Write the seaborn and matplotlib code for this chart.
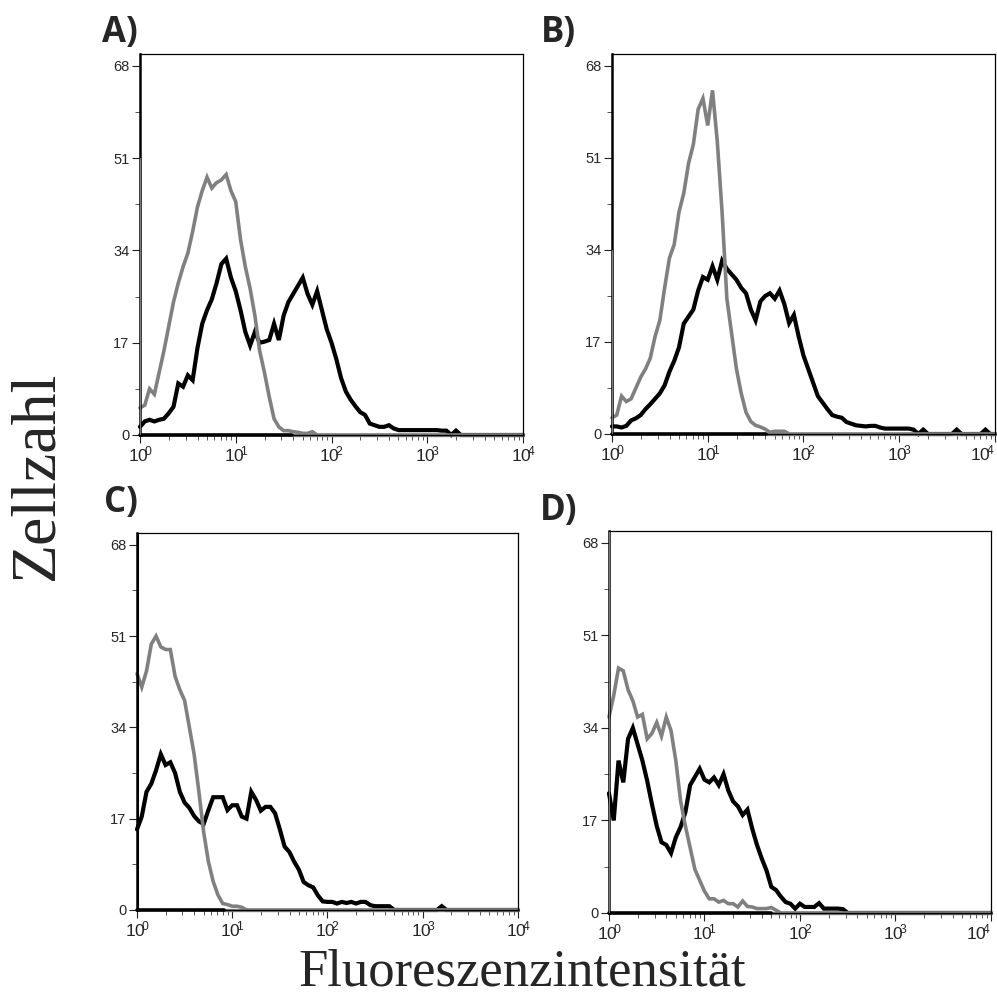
import numpy as np
import pandas as pd
import matplotlib
matplotlib.use("Agg")
import matplotlib.pyplot as plt
import seaborn as sns

# ---------------- data (counts per channel, channel width = 0.05 decade, starting at 10^0) ----------------
panel_labels = ["A)", "B)", "C)", "D)"]
channel_step = 0.05  # decades per channel

a_gray = [5, 5.5, 8.5, 7.5, 11.5, 15.5, 20, 24.5, 28, 31, 33.5, 37.5, 42, 45, 47.5, 45.5, 46.5, 47, 48, 45,
          43, 36, 31, 27, 22, 15.5, 11.5, 7, 3, 1.5, 0.8, 0.8, 0.6, 0.5, 0.3, 0.3, 0.6]
a_black = [1.5, 2.5, 2.8, 2.5, 2.8, 3, 4, 5.2, 9.5, 8.9, 11, 10.1, 16, 20.5, 23, 25, 28, 31.5, 32.5, 29,
           26.5, 23, 19, 16.5, 19, 17, 17.2, 17.5, 20.5, 17.5, 22, 24.5, 26, 27.5, 29, 26, 24, 26.5, 23, 19.5,
           17, 14, 10.5, 8, 6.5, 5.3, 4.2, 3.7, 2.1, 1.8, 1.5, 1.5, 1.8, 1.2, 0.9, 0.9, 0.9, 0.9, 0.9, 0.9,
           0.9, 0.9, 0.9, 0.8, 0.8, 0, 0.8]

b_gray = [3, 3.5, 7, 6, 6.5, 8.5, 10.5, 12, 14, 18, 21, 27, 32.5, 35, 41, 44.5, 50, 53.5, 60, 62,
          57, 63.5, 54, 41, 25, 18.5, 12, 7.5, 4, 2.3, 1.6, 1.3, 0.9, 0.3, 0.5, 0.5, 0.5]
b_black = [1.4, 1.4, 1.2, 1.5, 2.5, 2.9, 3.5, 4.6, 5.5, 6.5, 7.5, 9, 11.5, 13.5, 16, 20.4, 21.7, 23, 26.5, 29,
           28.5, 31, 28.5, 32, 30.5, 29.5, 28.5, 27, 26, 23, 21, 24.5, 25.5, 26, 25, 26.5, 24, 20.5, 22, 18,
           14.5, 12, 9.5, 7, 5.8, 4.6, 3.5, 3.2, 3, 2.2, 1.9, 1.6, 1.5, 1.4, 1.5, 1.5, 1.2, 1, 1, 1,
           1, 1, 1, 0.8, 0, 0.8, 0, 0, 0, 0, 0, 0, 0.8, 0, 0, 0, 0, 0, 0.8]

c_gray = [44, 41.5, 44.5, 49.5, 51, 49, 48.5, 48.5, 43.5, 41, 39, 34, 29, 22, 14.5, 9, 5.3, 2.8, 1.2, 1,
          0.7, 0.7, 0.5]
c_black = [15, 17.4, 22, 23.5, 26, 29, 27, 27.5, 25.5, 22, 20, 19, 17.5, 16.5, 16, 18.6, 21, 21, 21, 18.6,
           19.5, 19.5, 17.4, 17, 22, 20.5, 18.5, 19.2, 19.2, 18, 15, 11.8, 10.8, 9, 7.5, 5.2, 4.6, 4.2, 2.7, 1.6,
           1.5, 1.5, 1.2, 1.5, 1.3, 1.5, 1.2, 1.5, 1.5, 0.9, 0.7, 0.7, 0.7, 0.7, 0, 0, 0, 0, 0, 0,
           0, 0, 0, 0, 0.7]

d_gray = [36, 40, 45, 44.5, 41, 39, 36, 36.5, 32, 33, 35, 32.5, 36, 33.5, 28, 20.6, 16, 12, 8, 6,
          4, 2.6, 2.6, 2, 2.3, 1.7, 1.7, 1.1, 2.2, 1.2, 1.1, 0.8, 0.8, 0.8, 1, 0.5]
d_black = [22, 17, 28, 24, 32, 34, 31, 28, 24.3, 20, 16, 13, 12.5, 11, 13.9, 15.8, 18.5, 23.5, 25, 26.5,
           24.5, 24, 24.9, 23.5, 25.5, 22.5, 20.5, 19.6, 18, 19, 15.5, 12.5, 10, 7.8, 4.8, 4.2, 3, 2, 1.7, 0.8,
           1.7, 1.1, 1.1, 1.1, 1.8, 0.8, 0.8, 0.8, 0.8, 0.7]

gray_series = [a_gray, b_gray, c_gray, d_gray]
black_series = [a_black, b_black, c_black, d_black]

# first-channel spike at 10^0 (value, colour) and end of black baseline segment (decades)
first_channel_values = [51, 34, 70, 70]
first_channel_colors = ["gray", "gray", "black", "gray"]
black_baseline_end = [1.59, 1.61, 0.91, 1.70]

y_ticks = [0, 17, 34, 51, 68]
x_decades = [0, 1, 2, 3, 4]
x_label = "Fluoreszenzintensität"
y_label = "Zellzahl"

GRAY = "#808080"
colors = {"gray": GRAY, "black": "#000000"}

# ---------------- style ----------------
sns.set_style("white")
plt.rcParams["font.family"] = ["Liberation Sans", "DejaVu Sans"]
plt.rcParams["mathtext.fontset"] = "custom"
plt.rcParams["mathtext.rm"] = "Liberation Sans"
plt.rcParams["mathtext.it"] = "Liberation Sans"
plt.rcParams["mathtext.bf"] = "Liberation Sans:bold"

fig = plt.figure(figsize=(9.97, 9.97), dpi=100)
rects = [[0.1404, 0.5637, 0.3842, 0.3821],
         [0.6138, 0.5647, 0.3842, 0.3811],
         [0.1374, 0.0873, 0.3821, 0.3781],
         [0.6108, 0.0843, 0.3831, 0.3831]]
letter_pos = [(0.1023, 0.9579), (0.5426, 0.9579), (0.1043, 0.4865), (0.5416, 0.4784)]

n_full = int(round(4 / channel_step)) + 1


def series_frame(values, name):
    vals = list(values) + [0.0] * (n_full - len(values))
    logx = np.arange(n_full) * channel_step
    return pd.DataFrame({"x": 10 ** logx, "count": vals, "series": name})


for i, rect in enumerate(rects):
    ax = fig.add_axes(rect)
    df_b = series_frame(black_series[i], "black")
    df_g = series_frame(gray_series[i], "gray")

    # black baseline segment and gray baseline (overlay artefact of the original histogram)
    base_b = pd.DataFrame({"x": [1.0, 10 ** black_baseline_end[i]], "count": [0, 0]})
    base_g = pd.DataFrame({"x": [10 ** black_baseline_end[i], 1e4], "count": [0, 0]})
    sns.lineplot(data=base_g, x="x", y="count", color=GRAY, lw=2.4, ax=ax, clip_on=False)
    sns.lineplot(data=base_b, x="x", y="count", color="black", lw=2.6, ax=ax, clip_on=False)

    sns.lineplot(data=df_b, x="x", y="count", color="black", lw=3.0,
                 estimator=None, ax=ax, clip_on=False, solid_joinstyle="miter")
    sns.lineplot(data=df_g, x="x", y="count", color=GRAY, lw=2.6,
                 estimator=None, ax=ax, clip_on=False, solid_joinstyle="miter")

    spike_lw = 2.2 if first_channel_colors[i] == "black" else 1.4
    ax.vlines(1.0, 0, min(first_channel_values[i], 70.2), color=colors[first_channel_colors[i]],
              lw=spike_lw, zorder=3)

    ax.set_xscale("log")
    ax.set_xlim(1, 1e4)
    ax.set_ylim(0, 70.2)
    ax.set_xlabel("")
    ax.set_ylabel("")

    ax.set_yticks(y_ticks)
    ax.set_yticklabels([str(t) for t in y_ticks], fontsize=10.5)
    ax.set_yticks([t + 8.5 for t in y_ticks[:-1]], minor=True)
    ax.set_xticks([10 ** d for d in x_decades])
    ax.set_xticklabels([r"$10^{\!\!%d}$" % d for d in x_decades], fontsize=12.5)
    minor_x = [m * 10 ** d for d in x_decades[:-1] for m in range(2, 10)]
    ax.set_xticks(minor_x, minor=True)
    ax.xaxis.set_minor_formatter(matplotlib.ticker.NullFormatter())

    ax.tick_params(axis="both", which="major", direction="out", length=6, width=0.8,
                   color="#222222", bottom=True, left=True)
    ax.tick_params(axis="y", which="major", pad=1.5)
    ax.tick_params(axis="x", which="major", pad=1)
    ax.tick_params(axis="both", which="minor", direction="out", length=3.5, width=0.7,
                   color="#555555", bottom=True, left=True)
    last = ax.get_xticklabels()[-1]
    if rect[0] + rect[2] > 0.98:
        last.set_horizontalalignment("right")

    for side in ["top", "right", "bottom"]:
        ax.spines[side].set_visible(True)
        ax.spines[side].set_linewidth(0.9)
        ax.spines[side].set_color("black")
    ax.spines["left"].set_linewidth(1.8)
    ax.spines["left"].set_color("black")

    fig.text(letter_pos[i][0], letter_pos[i][1], panel_labels[i], fontsize=25, fontweight="bold",
             family=["Open Sans", "Liberation Sans", "DejaVu Sans"], ha="left", va="baseline")

fig.text(0.038, 0.523, y_label, rotation=90, fontsize=46, ha="center", va="center",
         family=["Liberation Serif", "DejaVu Serif"])
fig.text(0.524, 0.012, x_label, fontsize=38, ha="center", va="baseline",
         family=["Liberation Serif", "DejaVu Serif"])

fig.savefig("out.png", dpi=100)
